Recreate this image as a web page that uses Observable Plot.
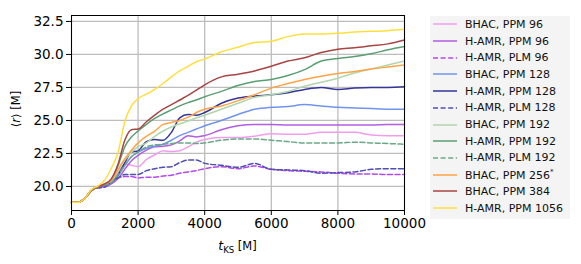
<!DOCTYPE html>
<html>
<head>
<meta charset="utf-8">
<script src="https://cdn.jsdelivr.net/npm/d3@7"></script>
<script src="https://cdn.jsdelivr.net/npm/@observablehq/plot@0.6"></script>
<style>
  body { margin: 0; background: white; font-family: "DejaVu Sans", sans-serif; }
  #wrap { position: relative; width: 581px; height: 264px; }
  #legend { position: absolute; left: 430px; top: 16px; width: 140px; height: 203px; background: #f4f4f4; }
  .row { position: absolute; left: 0; height: 16px; display: flex; align-items: center; font-size: 11px; color: #111; white-space: nowrap; }
  .row svg { margin-left: 3px; margin-right: 8px; }
</style>
</head>
<body>
<div id="wrap"><div id="legend"></div></div>
<script>
const times = [0, 200, 400, 600, 800, 1000, 1200, 1400, 1600, 1800, 2000, 2250, 2500, 2750, 3000, 3250, 3500, 3750, 4000, 4500, 5000, 5500, 6000, 6500, 7000, 7500, 8000, 8500, 9000, 9500, 10000];

const bhacPPM96   = [18.8,18.8,19.1,19.7,20.0, 20.1,20.4,21.0,21.7,21.6,21.5,22.05,22.4,22.7,22.65,22.7,23.0,23.35,23.55,23.7,23.7,23.8,24.0,23.95,23.95,24.1,24.1,24.1,23.9,23.85,23.85];
const hamrPPM96   = [18.8,18.8,19.1,19.7,19.95,20.0,20.2,20.6,21.3,21.95,22.35,22.75,23.0,23.05,23.15,23.45,23.85,23.75,23.85,24.3,24.6,24.7,24.7,24.65,24.65,24.65,24.65,24.65,24.65,24.7,24.7];
const hamrPLM96   = [18.8,18.8,19.1,19.7,19.9, 19.95,20.45,20.65,20.75,20.75,20.65,20.7,20.7,20.8,20.85,21.0,21.1,21.2,21.35,21.5,21.35,21.55,21.3,21.2,21.15,21.1,21.0,20.95,20.95,20.9,20.9];
const bhacPPM128  = [18.8,18.8,19.1,19.7,20.0, 20.1,20.3,20.8,21.6,22.25,22.6,22.9,23.05,23.2,23.5,23.85,24.1,24.35,24.6,25.0,25.45,25.85,26.0,26.05,26.2,26.1,26.0,25.95,25.9,25.85,25.85];
const hamrPPM128  = [18.8,18.8,19.1,19.7,20.0, 20.1,20.3,20.9,21.8,22.6,22.7,23.4,23.55,23.5,24.1,25.2,25.45,25.4,25.6,26.3,26.7,26.85,26.95,27.1,27.35,27.5,27.35,27.45,27.5,27.5,27.55];
const hamrPLM128  = [18.8,18.8,19.1,19.7,19.9, 19.95,20.4,20.65,20.9,20.9,20.9,21.2,21.35,21.45,21.5,21.8,22.0,22.0,21.75,21.6,21.45,21.75,21.3,21.25,21.2,21.0,21.05,21.1,21.3,21.35,21.35];
const bhacPPM192  = [18.8,18.8,19.1,19.7,20.0, 20.2,20.4,21.2,22.0,22.6,23.0,23.3,23.8,24.2,24.5,24.75,24.95,25.2,25.4,25.85,26.3,26.75,26.95,27.2,27.6,27.9,28.2,28.6,28.9,29.2,29.5];
const hamrPPM192  = [18.8,18.8,19.1,19.7,20.0, 20.2,20.5,21.6,23.0,23.75,24.2,24.7,25.15,25.5,25.8,26.1,26.35,26.55,26.8,27.2,27.65,27.95,28.1,28.4,28.85,29.5,29.7,29.85,30.05,30.35,30.6];
const hamrPLM192  = [18.8,18.8,19.1,19.7,20.0, 20.1,20.3,20.9,21.6,22.25,22.6,23.0,23.15,23.2,23.25,23.3,23.3,23.25,23.3,23.5,23.6,23.6,23.5,23.4,23.3,23.3,23.3,23.35,23.3,23.25,23.2];
const bhacPPM256  = [18.8,18.8,19.1,19.7,20.0, 20.2,20.5,21.3,22.1,22.75,23.3,23.8,24.2,24.7,24.85,25.0,25.25,25.6,25.85,26.1,26.5,26.95,27.45,27.8,28.1,28.35,28.55,28.7,28.9,29.05,29.2];
const bhacPPM384  = [18.8,18.8,19.1,19.7,20.0, 20.2,20.6,21.7,23.5,24.3,24.35,24.9,25.4,25.85,26.2,26.55,26.9,27.3,27.7,28.3,28.5,28.75,29.1,29.5,29.75,30.15,30.4,30.5,30.65,30.8,31.1];
const hamrPPM1056 = [18.8,18.8,19.1,19.75,20.05,20.5,21.4,22.6,24.9,26.1,26.65,27.0,27.35,27.8,28.3,28.75,29.1,29.45,29.65,30.2,30.55,30.9,31.0,31.35,31.55,31.55,31.6,31.7,31.75,31.8,31.9];

const seriesNames = ["BHAC, PPM 96","H-AMR, PPM 96","H-AMR, PLM 96","BHAC, PPM 128","H-AMR, PPM 128","H-AMR, PLM 128","BHAC, PPM 192","H-AMR, PPM 192","H-AMR, PLM 192","BHAC, PPM 256*","BHAC, PPM 384","H-AMR, PPM 1056"];
const seriesValues = [bhacPPM96,hamrPPM96,hamrPLM96,bhacPPM128,hamrPPM128,hamrPLM128,bhacPPM192,hamrPPM192,hamrPLM192,bhacPPM256,bhacPPM384,hamrPPM1056];
const xTicks = [0, 2000, 4000, 6000, 8000, 10000];
const yTicks = [20, 22.5, 25, 27.5, 30, 32.5];

// styles
const seriesColors = ["#f29cf0","#b25de2","#b448ee","#7094ee","#35359a","#4f4fb2","#b0d6ac","#5a9f72","#6aa986","#ffa444","#a84444","#ffdf3c"];
const seriesDashed = [false,false,true,false,false,true,false,false,true,false,false,false];

const lineMarks = seriesNames.map((name, k) => {
  const data = times.map((t, i) => ({t, v: seriesValues[k][i]}));
  return Plot.line(data, {x: "t", y: "v", stroke: seriesColors[k], strokeWidth: 1.5, curve: "monotone-x",
    strokeDasharray: seriesDashed[k] ? "5,2.6" : null});
});

const chart = Plot.plot({
  width: 581, height: 264,
  marginLeft: 71, marginRight: 177, marginTop: 15, marginBottom: 54,
  style: {fontFamily: "DejaVu Sans", fontSize: "13.5px", background: "white", color: "black"},
  x: {domain: [0, 10000]},
  y: {domain: [18.18, 32.95]},
  marks: [
    Plot.gridX(xTicks, {stroke: "#bdbdbd", strokeOpacity: 1, strokeWidth: 1.3}),
    Plot.gridY(yTicks, {stroke: "#bdbdbd", strokeOpacity: 1, strokeWidth: 1.3}),
    ...lineMarks,
    Plot.frame({stroke: "black", strokeWidth: 1}),
    Plot.axisX(xTicks, {tickSize: 5, tickPadding: 3, tickFormat: d3.format("d"), label: null, fontSize: 13.5}),
    Plot.axisY(yTicks, {tickSize: 5, tickPadding: 3, tickFormat: d3.format(".1f"), label: null, fontSize: 13.5})
  ]
});
document.getElementById("wrap").prepend(chart);

const svg = d3.select(chart);
const xl = svg.append("text").attr("x", 237.5).attr("y", 250).attr("text-anchor", "middle")
  .attr("font-size", 11.5).attr("fill", "black");
xl.append("tspan").attr("font-style", "italic").attr("font-size", 12.5).text("t");
xl.append("tspan").attr("font-size", 8.5).attr("dy", 2.5).text("KS");
xl.append("tspan").attr("dy", -2.5).text(" [M]");

const yl = svg.append("text").attr("transform", "translate(20,109) rotate(-90)").attr("text-anchor", "middle")
  .attr("font-size", 11.5).attr("fill", "black");
yl.append("tspan").text("⟨");
yl.append("tspan").attr("font-style", "italic").text("r");
yl.append("tspan").text("⟩ [M]");

// legend
const legend = document.getElementById("legend");
seriesNames.forEach((name, k) => {
  const row = document.createElement("div");
  row.className = "row";
  row.style.top = (0.3 + k * 16.7) + "px";
  const dash = seriesDashed[k] ? 'stroke-dasharray="5,2.6"' : "";
  const label = name.endsWith("*") ? name.slice(0, -1) + '<sup style="font-size:7px">*</sup>' : name;
  row.innerHTML = `<svg width="24" height="6"><line x1="0" x2="24" y1="3" y2="3" stroke="${seriesColors[k]}" stroke-width="1.5" ${dash}/></svg><span>${label}</span>`;
  legend.appendChild(row);
});
</script>
</body>
</html>
